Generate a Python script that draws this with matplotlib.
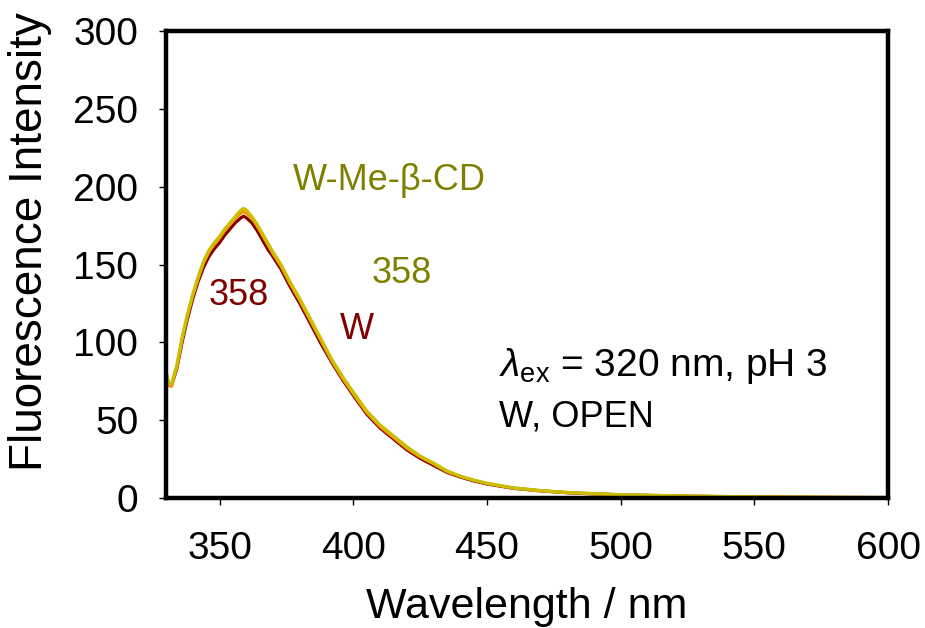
import matplotlib
matplotlib.use("Agg")
import matplotlib.pyplot as plt

plt.rcParams["font.family"] = ["Liberation Sans", "DejaVu Sans"]
plt.rcParams["mathtext.fontset"] = "custom"
plt.rcParams["mathtext.rm"] = "Liberation Sans"
plt.rcParams["mathtext.it"] = "Liberation Sans:italic"

# emission spectra, excitation at 320 nm, pH 3
wavelength = [330, 331, 332, 334, 336, 338, 340, 342, 344, 346, 348, 350, 352,
              354, 356, 358, 359, 360, 362, 364, 366, 368, 370, 373, 376, 380,
              384, 388, 392, 396, 400, 405, 410, 415, 420, 425, 430, 435, 440,
              445, 450, 460, 470, 480, 490, 500, 520, 540, 560, 580, 600]

w_free = [80, 73, 72, 83, 100, 115, 128, 139, 148, 155, 160, 164, 169,
          173, 177, 180, 181, 180, 177, 172, 166, 160, 155, 147, 137, 125,
          112, 99, 87, 76, 66, 54, 45, 38, 31, 25.5, 21, 16.5, 13.5,
          11, 9, 6.2, 4.6, 3.4, 2.6, 2.0, 1.3, 0.8, 0.5, 0.35, 0.25]

w_mid = [79, 72, 72, 84, 102, 117, 130, 141, 151, 158, 163, 167, 172,
         176, 180, 183, 184, 183, 180, 175, 169, 163, 157, 149, 139, 127,
         114, 101, 88, 77, 67, 55, 46, 39, 32, 26.5, 22, 17, 14,
         11.5, 9.3, 6.4, 4.7, 3.5, 2.7, 2.1, 1.4, 0.9, 0.6, 0.4, 0.3]

w_mecd = [81, 74, 73, 85, 103, 118, 131, 142, 152, 159, 164, 168, 173,
          177, 181, 185, 186, 185, 181, 176, 170, 164, 158, 150, 140, 128,
          115, 102, 89, 78, 68, 56, 47, 40, 33, 27, 22.5, 17.5, 14,
          11.5, 9.5, 6.5, 4.8, 3.6, 2.8, 2.2, 1.4, 0.9, 0.6, 0.4, 0.3]

x_ticks = [350, 400, 450, 500, 550, 600]
y_ticks = [0, 50, 100, 150, 200, 250, 300]

dark_red = "#800000"
olive = "#808000"

fig = plt.figure(figsize=(9.25, 6.28), dpi=100)
ax = fig.add_axes([0.1795, 0.207, 0.7805, 0.7436])

ax.plot(wavelength, w_free, color=dark_red, lw=2.3)
ax.plot(wavelength, w_mid, color="#FF8C00", lw=2.3)
ax.plot(wavelength, w_mecd, color="#C8C000", lw=2.3)

ax.set_xlim(330, 600)
ax.set_ylim(0, 300)
ax.set_xticks(x_ticks)
ax.set_yticks(y_ticks)
ax.tick_params(axis="both", direction="out", length=5, width=1, labelsize=28)
ax.tick_params(axis="x", pad=19)
ax.tick_params(axis="y", pad=15)
for side in ax.spines.values():
    side.set_linewidth(3.2)

ax.set_xlabel("Wavelength / nm", fontsize=31, labelpad=14)
ax.set_ylabel("Fluorescence Intensity", fontsize=33)
ax.yaxis.set_label_coords(-0.158, 0.55)

ax.text(377.5, 204, "W-Me-\u03b2-CD", color=olive, fontsize=26, va="center")
ax.text(407, 144.5, "358", color=olive, fontsize=26, va="center")
ax.text(345.8, 130, "358", color=dark_red, fontsize=26, va="center")
ax.text(395, 108.5, "W", color=dark_red, fontsize=26, va="center")
ax.text(454.5, 85, r"$\mathit{\lambda}_{\rm ex}$ = 320 nm, pH 3", fontsize=28,
        va="center")
ax.text(454.5, 52, "W, OPEN", fontsize=26, va="center")

fig.savefig("out.png", dpi=100)
